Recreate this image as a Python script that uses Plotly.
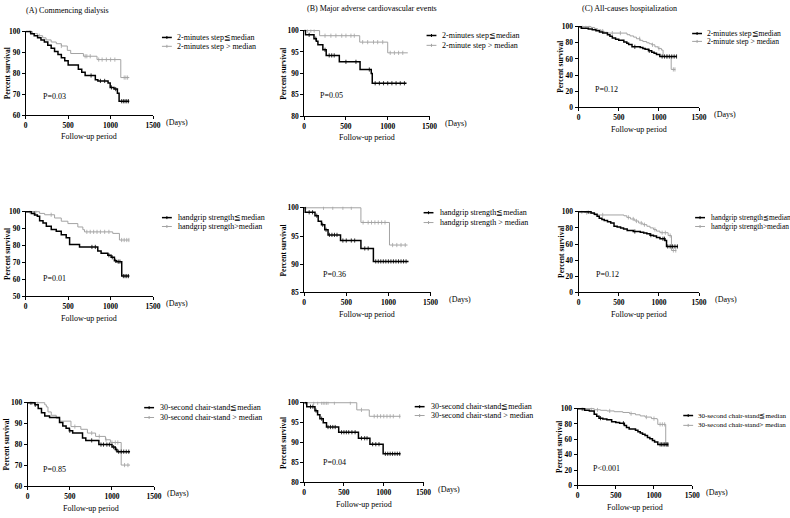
import numpy as np
import plotly.graph_objects as go

W, H = 790, 518
FONT = "Liberation Serif, Times New Roman, serif"
BLACK = "#000000"
GRAY = "#a3a3a3"

# ---------------- data (Kaplan-Meier step estimates) ----------------
titles = ["(A) Commencing dialysis", "(B) Major adverse cardiovascular events",
          "(C) All-causes hospitalization"]
p_values = ["P=0.03", "P=0.05", "P=0.12",
            "P=0.01", "P=0.36", "P=0.12",
            "P=0.85", "P=0.04", "P<0.001"]
legend_low = ["2-minutes step\u2266median", "2-minutes step\u2266median", "2-minutes step\u2266median",
              "handgrip strength\u2266median", "handgrip strength\u2266median", "handgrip strength\u2266median",
              "30-second chair-stand\u2266median", "30-second chair-stand\u2266median", "30-second chair-stand\u2266median"]
legend_high = ["2-minutes step > median", "2-minute step > median", "2-minute step > median",
               "handgrip strength>median", "handgrip strength > median", "handgrip strength>median",
               "30-second chair-stand > median", "30-second chair-stand > median", "30-second chair-stand> median"]
y_lows = [60, 80, 0, 50, 85, 0, 60, 80, 0]
y_ticks = [[60, 70, 80, 90, 100], [80, 85, 90, 95, 100], [0, 20, 40, 60, 80, 100],
           [50, 60, 70, 80, 90, 100], [85, 90, 95, 100], [0, 20, 40, 60, 80, 100],
           [60, 70, 80, 90, 100], [80, 85, 90, 95, 100], [0, 20, 40, 60, 80, 100]]
x_ticks = [0, 500, 1000, 1500]

# (A) Commencing dialysis / 2-minute step
a1_low_t = [0, 60, 100, 140, 180, 220, 260, 300, 340, 380, 420, 460, 500, 620, 660, 700, 820, 850, 970, 995, 1040, 1080, 1100]
a1_low_s = [100, 99, 98, 97, 96, 95, 93.5, 92, 90.5, 89, 87.5, 86, 84, 82, 80.5, 79, 77, 76.4, 75.4, 73.3, 72.5, 70.5, 66.7]
a1_low_end = 1220
a1_low_cens = [770, 880, 930, 1010, 1060, 1130, 1150, 1170, 1190, 1210]
a1_high_t = [0, 80, 140, 200, 240, 300, 360, 420, 490, 530, 680, 840, 1120]
a1_high_s = [100, 99, 98, 97, 96, 95, 94.2, 93.1, 91, 89.5, 88.2, 86.6, 78]
a1_high_end = 1220
a1_high_cens = [50, 160, 420, 700, 720, 760, 860, 900, 950, 1000, 1050, 1160, 1180, 1200]

# (B) MACE / 2-minute step
b1_low_t = [0, 16, 118, 146, 165, 224, 264, 421, 669, 803, 815]
b1_low_s = [100, 99, 98.1, 97.5, 96.7, 95.5, 94.2, 92.7, 90.9, 90, 87.7]
b1_low_end = 1225
b1_low_cens = [60, 140, 250, 300, 330, 360, 500, 620, 780, 850, 900, 950, 1000, 1050, 1100, 1150, 1200]
b1_high_t = [0, 185, 665, 1000]
b1_high_s = [100, 98.8, 97.3, 94.8]
b1_high_end = 1240
b1_high_cens = [40, 80, 120, 250, 320, 380, 450, 500, 560, 600, 700, 760, 830, 880, 940, 1030, 1080, 1130, 1180]

# (C) hospitalization / 2-minute step
c1_low_t = [0, 33, 120, 170, 216, 260, 300, 359, 390, 420, 460, 500, 563, 600, 623, 665, 767, 800, 828, 870, 910, 940, 970, 1011]
c1_low_s = [100, 98, 97, 96, 95, 93.5, 92, 90, 88, 86, 84.5, 83, 81, 79.5, 78, 75, 74, 73, 72, 70, 68.4, 67, 65.6, 63]
c1_low_end = 1223
c1_low_cens = [700, 880, 1040, 1070, 1100, 1130, 1160, 1190, 1220]
c1_high_t = [0, 155, 200, 236, 280, 318, 360, 603, 640, 685, 720, 766, 800, 848, 880, 910, 950, 990, 1031, 1052, 1153]
c1_high_s = [100, 99, 97.5, 96, 94.5, 93, 92, 90, 88.5, 87, 85, 83, 81.5, 80, 78.8, 77.5, 75, 73, 71, 63, 47]
c1_high_end = 1206
c1_high_cens = [50, 90, 130, 300, 420, 520, 760, 920, 1000, 1100, 1180, 1200]

# (A) Commencing dialysis / handgrip
a2_low_t = [0, 67, 106, 137, 164, 204, 243, 301, 360, 419, 477, 517, 634, 849, 888, 967, 1006, 1045, 1070, 1131]
a2_low_s = [100, 99, 98, 97.3, 94.7, 93.4, 91.4, 89.5, 88.5, 86.4, 84.6, 80.7, 79.2, 76.8, 75.5, 74.3, 73.1, 71, 70.5, 62]
a2_low_end = 1221
a2_low_cens = [100, 780, 820, 980, 1020, 1060, 1090, 1110, 1150, 1170, 1190, 1210]
a2_high_t = [0, 164, 223, 340, 419, 497, 614, 673, 693, 1025, 1104]
a2_high_s = [100, 99, 98.2, 96.3, 94.4, 93, 91, 89.4, 88.1, 87.2, 83.3]
a2_high_end = 1221
a2_high_cens = [50, 120, 300, 720, 760, 800, 840, 880, 930, 980, 1130, 1160, 1190, 1215]

# (B) MACE / handgrip
b2_low_t = [0, 12, 129, 167, 206, 245, 284, 432, 674, 822]
b2_low_s = [100, 99.2, 98.6, 97.6, 97, 96.1, 95.2, 94.2, 92.8, 90.5]
b2_low_end = 1239
b2_low_cens = [60, 100, 150, 220, 260, 300, 330, 360, 390, 460, 500, 560, 600, 720, 760, 850, 880, 910, 940, 970, 1000, 1030, 1060, 1090, 1120, 1150, 1180, 1210]
b2_high_t = [0, 674, 1013]
b2_high_s = [100, 97.4, 93.4]
b2_high_end = 1227
b2_high_cens = [20, 230, 340, 460, 560, 700, 760, 800, 840, 880, 920, 960, 1050, 1100, 1150, 1200]

# (C) hospitalization / handgrip
c2_low_t = [0, 155, 196, 230, 257, 290, 319, 360, 400, 441, 480, 523, 560, 605, 680, 768, 810, 850, 890, 932, 970, 1013, 1075, 1095]
c2_low_s = [100, 98.5, 97, 94.5, 92, 90.5, 89, 87.5, 86, 82, 81, 80, 78.5, 76.7, 75.5, 74.7, 73.5, 72.6, 71, 69.8, 68, 66.5, 64.5, 57]
c2_low_end = 1238
c2_low_cens = [120, 700, 900, 1050, 1070, 1110, 1140, 1170, 1200, 1230]
c2_high_t = [0, 74, 135, 196, 564, 600, 645, 700, 748, 800, 850, 890, 932, 970, 1013, 1115, 1156]
c2_high_s = [100, 99, 98, 96, 95, 93, 91, 88.5, 86, 84, 82, 80, 78, 76, 74, 70.5, 52]
c2_high_end = 1218
c2_high_cens = [40, 100, 300, 620, 680, 720, 780, 820, 950, 1040, 1080, 1140, 1180, 1210]

# (A) Commencing dialysis / chair-stand
a3_low_t = [0, 86, 125, 164, 203, 260, 378, 417, 456, 495, 534, 651, 690, 845, 1001, 1040, 1060]
a3_low_s = [100, 99, 97.2, 95.2, 93.6, 93, 90.6, 88.9, 87.8, 86.6, 85.5, 83.1, 82, 80, 78.8, 77.7, 76.6]
a3_low_end = 1215
a3_low_cens = [40, 90, 500, 760, 870, 900, 940, 970, 1020, 1050, 1080, 1110, 1140, 1170, 1200]
a3_high_t = [0, 203, 222, 241, 280, 339, 380, 514, 631, 709, 806, 923, 982, 1110]
a3_high_s = [100, 99, 98, 95.6, 94, 92.5, 91.2, 88.6, 87.3, 85.5, 83.9, 82.3, 81, 70.2]
a3_high_end = 1215
a3_high_cens = [30, 60, 120, 560, 760, 850, 930, 1000, 1040, 1070, 1150, 1190]

# (B) MACE / chair-stand
b3_low_t = [0, 33, 136, 169, 198, 240, 281, 434, 682, 826, 992]
b3_low_s = [100, 99, 98, 97, 96, 95, 93.9, 92.6, 91.1, 89.6, 87.2]
b3_low_end = 1211
b3_low_cens = [80, 110, 150, 220, 300, 330, 360, 390, 470, 500, 530, 560, 600, 640, 720, 760, 790, 860, 900, 940, 1020, 1050, 1080, 1110, 1140, 1170, 1200]
b3_high_t = [0, 661, 818]
b3_high_s = [100, 98.2, 96.6]
b3_high_end = 1211
b3_high_cens = [20, 120, 170, 220, 240, 260, 280, 300, 380, 580, 720, 880, 920, 960, 1000, 1040, 1080, 1120, 1200]

# (C) hospitalization / chair-stand
c3_low_t = [0, 92, 154, 217, 250, 280, 330, 383, 446, 500, 550, 612, 640, 675, 758, 790, 820, 850, 883, 915, 946, 980, 1008, 1050]
c3_low_s = [100, 98, 97, 92.7, 90, 87.6, 86.5, 85.5, 83, 82, 81, 78, 75.5, 73.5, 71.8, 70, 68.4, 66.5, 65, 62.5, 60.7, 58.5, 56.4, 53.4]
c3_low_end = 1187
c3_low_cens = [60, 300, 600, 1080, 1100, 1120, 1140, 1160, 1180]
c3_high_t = [0, 217, 300, 383, 480, 592, 680, 758, 820, 883, 967, 1042, 1050, 1154]
c3_high_s = [100, 98.5, 97.8, 97, 96, 95, 93.5, 92, 90.5, 89, 87, 85.9, 79.5, 53]
c3_high_end = 1196
c3_high_cens = [80, 180, 260, 420, 700, 900, 1000, 1080, 1110, 1140, 1170, 1190]

series = [
    (a1_low_t, a1_low_s, a1_low_end, a1_low_cens, a1_high_t, a1_high_s, a1_high_end, a1_high_cens),
    (b1_low_t, b1_low_s, b1_low_end, b1_low_cens, b1_high_t, b1_high_s, b1_high_end, b1_high_cens),
    (c1_low_t, c1_low_s, c1_low_end, c1_low_cens, c1_high_t, c1_high_s, c1_high_end, c1_high_cens),
    (a2_low_t, a2_low_s, a2_low_end, a2_low_cens, a2_high_t, a2_high_s, a2_high_end, a2_high_cens),
    (b2_low_t, b2_low_s, b2_low_end, b2_low_cens, b2_high_t, b2_high_s, b2_high_end, b2_high_cens),
    (c2_low_t, c2_low_s, c2_low_end, c2_low_cens, c2_high_t, c2_high_s, c2_high_end, c2_high_cens),
    (a3_low_t, a3_low_s, a3_low_end, a3_low_cens, a3_high_t, a3_high_s, a3_high_end, a3_high_cens),
    (b3_low_t, b3_low_s, b3_low_end, b3_low_cens, b3_high_t, b3_high_s, b3_high_end, b3_high_cens),
    (c3_low_t, c3_low_s, c3_low_end, c3_low_cens, c3_high_t, c3_high_s, c3_high_end, c3_high_cens),
]

# ---------------- layout geometry (pixel boxes of each plot area) ----------------
# left, right, top(=100%), bottom(=y low)
boxes = [(24, 153, 29, 114), (306, 433, 28, 115), (584, 706, 24, 106),
         (24, 153, 212, 298), (306, 434, 208, 294), (584, 706, 212, 294),
         (26, 154, 406, 491), (306, 427, 406, 487), (583, 699, 412, 490)]
title_pos = [(22, 8), (307, 6), (585, 6)]
p_pos = [(40, 95), (320, 94), (599, 88), (40, 280), (323, 276), (600, 276), (40, 474), (323, 467), (597, 473)]
# legend: line start x, text start x, y of first row, y of second row, font size
leg_pos = [(162, 175, 35, 44, 8), (430, 444, 33, 43, 8), (699, 712, 31, 39, 7.6),
           (162, 176, 218, 227, 8), (427, 442, 213, 223, 8), (702, 716, 218, 227, 7.4),
           (144, 158, 411, 421, 8), (418, 432, 410, 419, 8), (690, 703, 419, 429, 7)]
ytitle_x = [5, 285, 566, 5, 285, 566, 5, 285, 564]
days_dx = [11, 14, 13, 11, 17, 14, 11, 13, 12]


def px(x):
    return x / W


def py(y):
    return 1 - y / H


def step_at(t_arr, s_arr, times):
    t_arr = np.asarray(t_arr, float)
    s_arr = np.asarray(s_arr, float)
    idx = np.searchsorted(t_arr, np.asarray(times, float), side="right") - 1
    return s_arr[np.clip(idx, 0, len(s_arr) - 1)]


fig = go.Figure()
annotations = []
shapes = []

for i in range(9):
    k = "" if i == 0 else str(i + 1)
    xa, ya = "x" + k, "y" + k
    L, R, T, B = boxes[i]
    ylo = y_lows[i]
    pad = (100 - ylo) * 0.012
    top_px = T - pad / (100 - ylo) * (B - T)
    lt, ls, lend, lc, ht, hs, hend, hc = series[i]

    for (t, s, end, cens, col, wid) in [(ht, hs, hend, hc, GRAY, 1.0), (lt, ls, lend, lc, BLACK, 1.5)]:
        fig.add_trace(go.Scatter(
            x=list(t) + [end], y=list(s) + [s[-1]], mode="lines",
            line=dict(color=col, width=wid, shape="hv"),
            xaxis=xa, yaxis=ya, showlegend=False, hoverinfo="skip"))
        fig.add_trace(go.Scatter(
            x=cens, y=step_at(t, s, cens), mode="markers",
            marker=dict(symbol="line-ns", size=3, line=dict(color=col, width=0.8)),
            xaxis=xa, yaxis=ya, showlegend=False, hoverinfo="skip"))

    axis_common = dict(showline=True, linecolor="black", linewidth=1, ticks="outside",
                       ticklen=3, tickwidth=1, tickcolor="black", showgrid=False, zeroline=False,
                       tickfont=dict(family=FONT, size=7.5, color="black", weight="bold"))
    fig.update_layout({
        ("xaxis" + k): dict(domain=[px(L), px(R)], range=[0, 1500], tickvals=x_ticks,
                            anchor=ya, **axis_common),
        ("yaxis" + k): dict(domain=[py(B), py(top_px)], range=[ylo, 100 + pad], tickvals=y_ticks[i],
                            anchor=xa, **axis_common),
    })

    # axis titles
    annotations.append(dict(x=px(ytitle_x[i]), y=py((T + B) / 2), xref="paper", yref="paper",
                            text="<b>Percent survival</b>", textangle=-90, showarrow=False,
                            xanchor="center", yanchor="middle",
                            font=dict(family=FONT, size=7.5, color="black")))
    annotations.append(dict(x=px((L + R) / 2), y=py(B + 22), xref="paper", yref="paper",
                            text="Follow-up period", showarrow=False, xanchor="center", yanchor="middle",
                            font=dict(family=FONT, size=8, color="black")))
    annotations.append(dict(x=px(R + days_dx[i]), y=py(B + 7), xref="paper", yref="paper",
                            text="(Days)", showarrow=False, xanchor="left", yanchor="middle",
                            font=dict(family=FONT, size=8, color="black")))
    # p value
    annotations.append(dict(x=px(p_pos[i][0]), y=py(p_pos[i][1]), xref="paper", yref="paper",
                            text=p_values[i], showarrow=False, xanchor="left", yanchor="middle",
                            font=dict(family=FONT, size=8, color="black")))
    # legend entries
    lx, tx, y1, y2, fs = leg_pos[i]
    for (yy, col, wid, lab) in [(y1, BLACK, 1.5, legend_low[i]), (y2, GRAY, 1.0, legend_high[i])]:
        shapes.append(dict(type="line", xref="paper", yref="paper", x0=px(lx), x1=px(lx + 10),
                           y0=py(yy), y1=py(yy), line=dict(color=col, width=wid)))
        shapes.append(dict(type="line", xref="paper", yref="paper", x0=px(lx + 5), x1=px(lx + 5),
                           y0=py(yy - 1.5), y1=py(yy + 1.5), line=dict(color=col, width=1)))
        annotations.append(dict(x=px(tx), y=py(yy), xref="paper", yref="paper", text=lab,
                                showarrow=False, xanchor="left", yanchor="middle",
                                font=dict(family=FONT, size=fs, color="black")))

for j, t in enumerate(titles):
    annotations.append(dict(x=px(title_pos[j][0]), y=py(title_pos[j][1]), xref="paper", yref="paper",
                            text=t, showarrow=False, xanchor="left", yanchor="middle",
                            font=dict(family=FONT, size=8, color="black")))

fig.update_layout(width=W, height=H, margin=dict(l=0, r=0, t=0, b=0),
                  paper_bgcolor="white", plot_bgcolor="white", showlegend=False,
                  annotations=annotations, shapes=shapes)

fig.write_html("out.html", config={"displayModeBar": False, "staticPlot": True},
               post_script="document.body.style.margin='0';document.body.style.padding='0';"
                           "document.body.style.overflow='hidden';")
